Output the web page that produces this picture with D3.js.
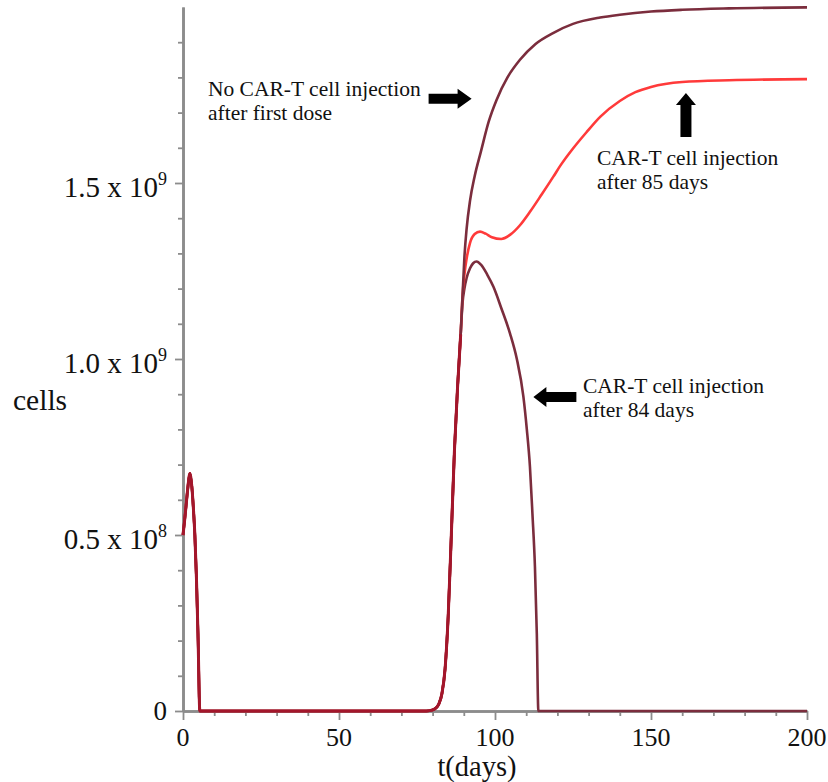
<!DOCTYPE html>
<html>
<head>
<meta charset="utf-8">
<script src="https://cdn.jsdelivr.net/npm/d3@7"></script>
<style>
  html, body { margin: 0; padding: 0; background: #fff; }
  svg { display: block; }
  text { font-family: "Liberation Serif", "Times New Roman", serif; fill: #111; }
</style>
</head>
<body>
<svg id="chart" width="828" height="782"></svg>
<script>
// ---------------- DATA (cells in units of 10^9, time in days) ----------------
const sharedT = [0, 0.5, 1, 1.5, 2.2, 2.8, 3.3, 3.8, 4.3, 4.8, 5.4, 20, 40, 60, 78, 80, 81, 82, 83, 84, 85, 86, 87, 88, 89];
const sharedV = [0.5, 0.54, 0.585, 0.63, 0.675, 0.64, 0.58, 0.5, 0.38, 0.22, 0, 0, 0, 0, 0, 0.003, 0.008, 0.02, 0.05, 0.12, 0.27, 0.5, 0.74, 0.92, 1.07];

const noCarT_T = [89.6, 90.2, 90.9, 92, 93.5, 95.5, 98, 100.5, 104, 108, 113, 118.6, 125, 133.7, 140, 150, 160, 175, 200];
const noCarT_V = [1.18, 1.29, 1.37, 1.45, 1.52, 1.59, 1.675, 1.736, 1.80, 1.85, 1.895, 1.926, 1.952, 1.97, 1.978, 1.987, 1.992, 1.996, 1.999];

const day85_T = [89.6, 90.2, 90.9, 92, 93.5, 95.2, 97, 99, 102, 105, 108, 111.2, 115, 118.7, 121, 125, 129.4, 133.7, 140, 145, 150, 160, 175, 200];
const day85_V = [1.18, 1.24, 1.285, 1.33, 1.355, 1.362, 1.356, 1.346, 1.341, 1.354, 1.38, 1.418, 1.468, 1.518, 1.55, 1.598, 1.645, 1.688, 1.733, 1.758, 1.773, 1.787, 1.792, 1.795];

const day84_T = [89.6, 90.2, 90.9, 92, 93, 94.1, 95.5, 97.5, 99.5, 102, 104.8, 107, 109.1, 110.2, 111.2, 112, 112.8, 113.4, 113.9, 120, 150, 200];
const day84_V = [1.16, 1.2, 1.23, 1.258, 1.272, 1.277, 1.268, 1.24, 1.205, 1.145, 1.073, 1.0, 0.893, 0.8, 0.694, 0.56, 0.41, 0.22, 0, 0, 0, 0];

const xMajorTicks = [0, 50, 100, 150, 200];
const xMinorTicks = [10, 20, 30, 40, 60, 70, 80, 90, 110, 120, 130, 140, 160, 170, 180, 190];
const yMajorTicks = [0, 0.5, 1.0, 1.5];
const yMinorTicks = [0.1, 0.2, 0.3, 0.4, 0.6, 0.7, 0.8, 0.9, 1.1, 1.2, 1.3, 1.4, 1.6, 1.7, 1.8, 1.9];
const yTickBase = ["0", "0.5 x 10", "1.0 x 10", "1.5 x 10"];
const yTickSup = ["", "8", "9", "9"];

const annoNoCarT = ["No CAR-T cell injection", "after first dose"];
const anno85 = ["CAR-T cell injection", "after 85 days"];
const anno84 = ["CAR-T cell injection", "after 84 days"];

// ---------------- CHART ----------------
const svg = d3.select("#chart");
const x = d3.scaleLinear().domain([0, 200]).range([183, 807]);
const y = d3.scaleLinear().domain([0, 2.0]).range([711, 7]);

const axisColor = "#8c8c8c";

// y axis
const gy = svg.append("g").attr("transform", `translate(${x(0)},0)`);
gy.append("g").call(d3.axisLeft(y).tickValues(yMinorTicks).tickSize(5).tickSizeOuter(0).tickFormat(""));
gy.append("g").call(d3.axisLeft(y).tickValues(yMajorTicks).tickSize(8).tickSizeOuter(0).tickFormat(""));
// x axis
const gx = svg.append("g").attr("transform", `translate(0,${y(0)})`);
gx.append("g").call(d3.axisBottom(x).tickValues(xMinorTicks).tickSize(5).tickSizeOuter(0).tickFormat(""));
gx.append("g").call(d3.axisBottom(x).tickValues(xMajorTicks).tickSize(9).tickSizeOuter(0).tickFormat(""));

svg.selectAll(".domain").attr("stroke", axisColor).attr("stroke-width", 2.6);
svg.selectAll(".tick line").attr("stroke", axisColor).attr("stroke-width", 1.8);

// y tick labels
yMajorTicks.forEach((v, i) => {
  const t = svg.append("text")
    .attr("x", x(0) - 16)
    .attr("y", y(v) + (yTickSup[i] ? 14 : 9))
    .attr("text-anchor", "end")
    .style("font-size", yTickSup[i] ? "29px" : "27px");
  t.append("tspan").text(yTickBase[i]);
  if (yTickSup[i]) t.append("tspan").attr("dy", -12).style("font-size", "18px").text(yTickSup[i]);
});

// x tick labels
svg.selectAll(".xlab").data(xMajorTicks).enter().append("text")
  .attr("class", "xlab")
  .attr("x", d => x(d))
  .attr("y", 746)
  .attr("text-anchor", "middle")
  .style("font-size", "26px")
  .text(d => d);

// axis titles
svg.append("text").attr("x", 477).attr("y", 776).attr("text-anchor", "middle")
  .style("font-size", "28.5px").text("t(days)");
svg.append("text").attr("x", 13).attr("y", 410).style("font-size", "29.5px").text("cells");

// lines
const line = d3.line().x(d => x(d[0])).y(d => y(d[1])).curve(d3.curveMonotoneX);
const zip = (ts, vs) => ts.map((t, i) => [t, vs[i]]);
const shared = zip(sharedT, sharedV);

const maroon = "#7b2d3d", red = "#ff3a3a", crimson = "#a3162b";
const lw = 2.6;

svg.append("path").datum(shared.concat(zip(day84_T, day84_V)))
  .attr("d", line).attr("fill", "none").attr("stroke", maroon).attr("stroke-width", lw);
svg.append("path").datum(shared.concat(zip(day85_T, day85_V)))
  .attr("d", line).attr("fill", "none").attr("stroke", red).attr("stroke-width", lw);
svg.append("path").datum(shared.concat(zip(noCarT_T, noCarT_V)))
  .attr("d", line).attr("fill", "none").attr("stroke", maroon).attr("stroke-width", lw);
svg.append("path").datum(shared)
  .attr("d", line).attr("fill", "none").attr("stroke", crimson).attr("stroke-width", lw + 0.4);

// annotations
function textBlock(lines, px, py) {
  lines.forEach((s, i) => {
    svg.append("text").attr("x", px).attr("y", py + i * 24).style("font-size", "21.5px").text(s);
  });
}
textBlock(annoNoCarT, x(8), y(1.747));
textBlock(anno85, x(132.7), y(1.551));
textBlock(anno84, x(128.2), y(0.903));

// arrows: tip at (tx,ty), direction angle in degrees (0 = pointing right)
function arrow(tx, ty, angle, len, bodyH, headH, headL) {
  const pts = [
    [0, 0], [-headL, -headH / 2], [-headL, -bodyH / 2], [-len, -bodyH / 2],
    [-len, bodyH / 2], [-headL, bodyH / 2], [-headL, headH / 2]
  ];
  svg.append("polygon")
    .attr("points", pts.map(p => p.join(",")).join(" "))
    .attr("transform", `translate(${tx},${ty}) rotate(${angle})`)
    .attr("fill", "#000");
}
arrow(x(92.5), y(1.739), 0, 43, 10, 20, 14);
arrow(x(112.3), y(0.892), 180, 43, 10, 20, 13);
arrow(x(161.2), y(1.756), -90, 44, 11, 20, 12);
</script>
</body>
</html>
